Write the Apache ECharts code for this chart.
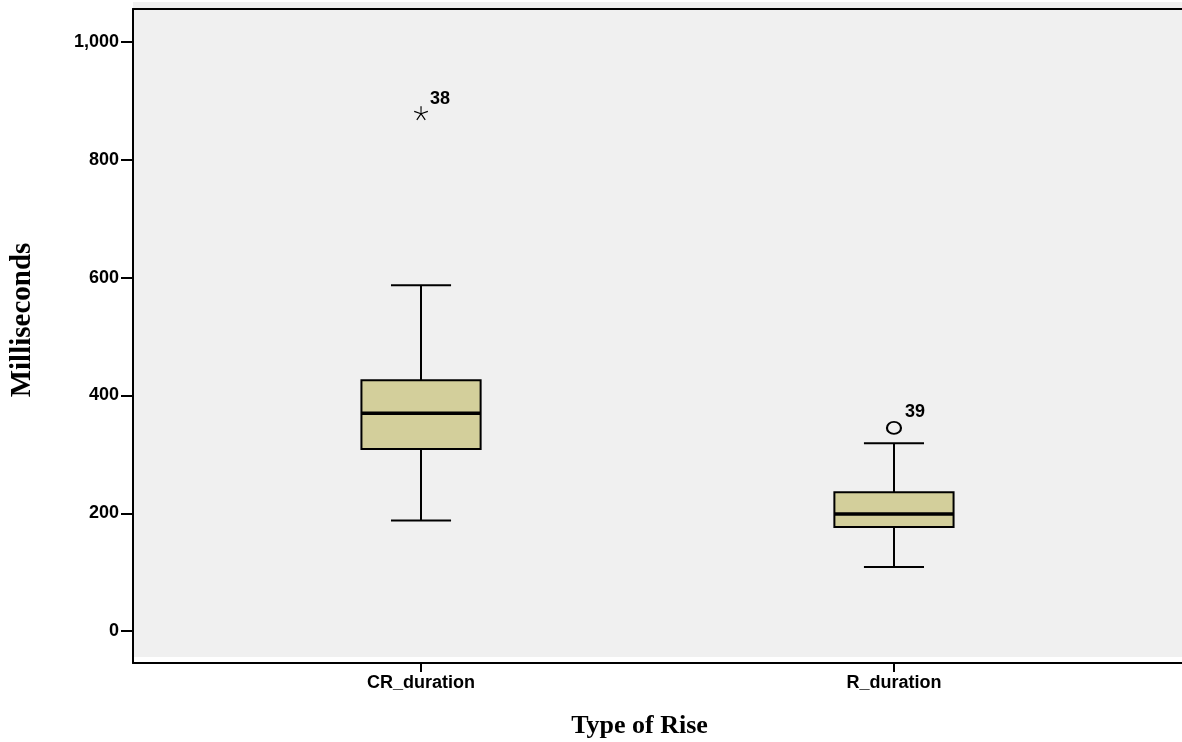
<!DOCTYPE html>
<html>
<head>
<meta charset="utf-8">
<script src="https://cdn.jsdelivr.net/npm/echarts@6/dist/echarts.min.js"></script>
<style>
html,body{margin:0;padding:0;background:#fff;}
#c{width:1182px;height:742px;}
</style>
</head>
<body>
<div id="c"></div>
<script>
// ---- data ----
const categories = ['CR_duration', 'R_duration'];
const whiskerLow = [188, 109];
const q1 = [309, 177];
const median = [370, 199];
const q3 = [426, 236];
const whiskerHigh = [587, 319];
const extremeValues = [[0, 879]];
const extremeIds = ['38'];
const outlierValues = [[1, 345]];
const outlierIds = ['39'];
const yTicks = [0, 200, 400, 600, 800, 1000];

const boxData = categories.map((c, i) => [i, whiskerLow[i], q1[i], median[i], q3[i], whiskerHigh[i]]);

const labelFont = 'Liberation Sans, Arial, sans-serif';
const titleFont = 'Liberation Serif, Times New Roman, serif';

const starPath = 'path://M9.2,0L10.8,0L10.6,8.3L18.6,5.6L19.1,7.1L11.2,9.6L16.1,16.4L14.8,17.3L10,10.5L5.2,17.3L3.9,16.4L8.8,9.6L0.9,7.1L1.4,5.6L9.4,8.3Z';

function renderBox(params, api) {
  const x = api.value(0);
  const lo = api.coord([x, api.value(1)]);
  const b1 = api.coord([x, api.value(2)]);
  const md = api.coord([x, api.value(3)]);
  const b3 = api.coord([x, api.value(4)]);
  const hi = api.coord([x, api.value(5)]);
  const boxW = api.size([0.252, 0])[0];
  const capW = api.size([0.127, 0])[0];
  const cx = lo[0];
  const line = { stroke: '#000', lineWidth: 2 };
  return {
    type: 'group',
    children: [
      { type: 'line', shape: { x1: cx, y1: hi[1], x2: cx, y2: b3[1] }, style: line },
      { type: 'line', shape: { x1: cx, y1: b1[1], x2: cx, y2: lo[1] }, style: line },
      { type: 'line', shape: { x1: cx - capW / 2, y1: hi[1], x2: cx + capW / 2, y2: hi[1] }, style: line },
      { type: 'line', shape: { x1: cx - capW / 2, y1: lo[1], x2: cx + capW / 2, y2: lo[1] }, style: line },
      { type: 'rect', shape: { x: cx - boxW / 2, y: b3[1], width: boxW, height: b1[1] - b3[1] },
        style: { fill: '#d3cf9b', stroke: '#000', lineWidth: 2 } },
      { type: 'line', shape: { x1: cx - boxW / 2, y1: md[1], x2: cx + boxW / 2, y2: md[1] },
        style: { stroke: '#000', lineWidth: 3.5 } }
    ]
  };
}

const chart = echarts.init(document.getElementById('c'), null, { renderer: 'canvas' });
chart.setOption({
  animation: false,
  backgroundColor: '#ffffff',
  grid: [
    { left: 133, right: 0, top: 2, bottom: 85, show: true, backgroundColor: '#f0f0f0', borderWidth: 0, outerBoundsMode: 'none', containLabel: false },
    { left: 133, right: 0, top: 9, bottom: 79, show: false, outerBoundsMode: 'none', containLabel: false }
  ],
  xAxis: [
    { gridIndex: 0, type: 'value', show: false, min: 0, max: 1 },
    {
      gridIndex: 1, type: 'value', min: -0.609, max: 1.609, position: 'bottom',
      name: 'Type of Rise', nameLocation: 'middle', nameGap: 50,
      nameTextStyle: { fontFamily: titleFont, fontWeight: 'bold', fontSize: 26, color: '#000', padding: [0, 36, 0, 0] },
      axisLine: { show: true, onZero: false, lineStyle: { color: '#000', width: 2 } },
      axisTick: { show: true, length: 9, customValues: [0, 1], lineStyle: { color: '#000', width: 2 } },
      axisLabel: { show: true, customValues: [0, 1], margin: 11,
        formatter: v => categories[Math.round(v)] || '',
        fontFamily: labelFont, fontWeight: 'bold', fontSize: 18, color: '#000' },
      splitLine: { show: false }
    },
    {
      gridIndex: 1, type: 'value', min: -0.609, max: 1.609, position: 'top',
      axisLine: { show: true, onZero: false, lineStyle: { color: '#000', width: 2 } },
      axisTick: { show: false }, axisLabel: { show: false }, splitLine: { show: false }
    }
  ],
  yAxis: [
    { gridIndex: 0, type: 'value', show: false, min: 0, max: 1 },
    {
      gridIndex: 1, type: 'value', min: -54, max: 1056,
      name: 'Milliseconds', nameLocation: 'middle', nameGap: 96, nameRotate: 90,
      nameTextStyle: { fontFamily: titleFont, fontWeight: 'bold', fontSize: 29, color: '#000', padding: [0, 0, 0, 32] },
      axisLine: { show: true, onZero: false, lineStyle: { color: '#000', width: 2 } },
      axisTick: { show: true, length: 12, customValues: yTicks, lineStyle: { color: '#000', width: 2 } },
      axisLabel: { show: true, customValues: yTicks, margin: 14,
        formatter: v => v.toLocaleString('en-US'),
        fontFamily: labelFont, fontWeight: 'bold', fontSize: 18, color: '#000' },
      splitLine: { show: false }
    }
  ],
  series: [
    {
      type: 'custom', xAxisIndex: 1, yAxisIndex: 1,
      renderItem: renderBox, data: boxData, z: 3
    },
    {
      type: 'scatter', xAxisIndex: 1, yAxisIndex: 1, data: extremeValues,
      symbol: starPath, symbolSize: 14,
      itemStyle: { color: '#000', opacity: 1 },
      label: { show: true, formatter: p => extremeIds[p.dataIndex], position: 'inside', offset: [19, -14],
        fontFamily: labelFont, fontWeight: 'bold', fontSize: 18, color: '#000', textBorderWidth: 0 },
      z: 4
    },
    {
      type: 'scatter', xAxisIndex: 1, yAxisIndex: 1, data: outlierValues,
      symbol: 'circle', symbolSize: [14, 12],
      itemStyle: { color: 'rgba(0,0,0,0)', borderColor: '#000', borderWidth: 2, opacity: 1 },
      label: { show: true, formatter: p => outlierIds[p.dataIndex], position: 'inside', offset: [21, -16],
        fontFamily: labelFont, fontWeight: 'bold', fontSize: 18, color: '#000', textBorderWidth: 0 },
      z: 4
    }
  ]
});
</script>
</body>
</html>
